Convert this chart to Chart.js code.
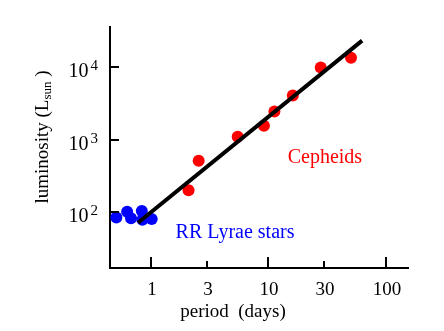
<!DOCTYPE html>
<html>
<head>
<meta charset="utf-8">
<script src="https://cdn.jsdelivr.net/npm/chart.js@4.4.0/dist/chart.umd.min.js"></script>
<style>
  html, body { margin: 0; padding: 0; background: #fff; }
  canvas { display: block; }
</style>
</head>
<body>
<canvas id="plChart" width="444" height="331"></canvas>
<script>
// RR Lyrae variables: period (days), luminosity (L_sun)
const rrPeriod = [0.51, 0.63, 0.68, 0.84, 0.85, 1.02];
const rrLum = [84, 101, 82, 103, 78, 80];

// classical Cepheids
const cephPeriod = [2.1, 2.56, 5.5, 9.2, 11.3, 16.2, 28, 50.7];
const cephLum = [200, 510, 1100, 1560, 2440, 4070, 9900, 13600];

// period-luminosity fit, end points
const fitPeriod = [0.78, 63];
const fitLum = [71, 23400];

const xTicks = [1, 3, 10, 30, 100];
const xMajor = [1, 10, 100];
const yTicks = [100, 1000, 10000];

const serif = '"Liberation Serif", "Times New Roman", serif';

const toPoints = (xs, ys) => xs.map((v, i) => ({ x: v, y: ys[i] }));

// tick marks point inwards, labels and titles are drawn by hand
const axisDecor = {
    id: "axisDecor",
    afterDraw(chart) {
        const { ctx, chartArea: a, scales: { x, y } } = chart;
        ctx.save();
        ctx.strokeStyle = "#000";
        ctx.fillStyle = "#000";
        ctx.lineWidth = 2;
        ctx.textBaseline = "alphabetic";

        ctx.font = "19px " + serif;
        ctx.textAlign = "center";
        xTicks.forEach(v => {
            const px = Math.round(x.getPixelForValue(v));
            const len = xMajor.includes(v) ? 11 : 7;
            ctx.beginPath();
            ctx.moveTo(px, a.bottom);
            ctx.lineTo(px, a.bottom - len);
            ctx.stroke();
            ctx.fillText(String(v), px + 1, a.bottom + 27);
        });

        yTicks.forEach(v => {
            const py = Math.round(y.getPixelForValue(v));
            ctx.beginPath();
            ctx.moveTo(a.left, py);
            ctx.lineTo(a.left + 9, py);
            ctx.stroke();
            const exp = String(Math.round(Math.log10(v)));
            ctx.textAlign = "right";
            ctx.font = "15px " + serif;
            ctx.fillText(exp, a.left - 12, py + 3);
            const ew = ctx.measureText(exp).width;
            ctx.font = "20px " + serif;
            ctx.fillText("10", a.left - 14 - ew, py + 10);
        });

        // x title
        ctx.textAlign = "center";
        ctx.font = "19px " + serif;
        ctx.fillText("period  (days)", 233, 317);

        // y title with subscript
        ctx.save();
        ctx.translate(48, 137);
        ctx.rotate(-Math.PI / 2);
        ctx.textAlign = "left";
        const parts = [
            ["luminosity (L", "19px", 0],
            ["sun", "13px", 3],
            [" )", "19px", 0]
        ];
        let total = 0;
        parts.forEach(p => { ctx.font = p[1] + " " + serif; total += ctx.measureText(p[0]).width; });
        let cx = -total / 2;
        parts.forEach(p => {
            ctx.font = p[1] + " " + serif;
            ctx.fillText(p[0], cx, p[2]);
            cx += ctx.measureText(p[0]).width;
        });
        ctx.restore();

        // group names
        ctx.textAlign = "center";
        ctx.font = "20px " + serif;
        ctx.fillStyle = "#ff0000";
        ctx.fillText("Cepheids", x.getPixelForValue(30.4), y.getPixelForValue(476));
        ctx.fillStyle = "#0000ff";
        ctx.fillText("RR Lyrae stars", x.getPixelForValue(5.22), y.getPixelForValue(43.7));

        ctx.restore();
    }
};

new Chart(document.getElementById("plChart"), {
    type: "scatter",
    data: {
        datasets: [
            {
                type: "line",
                data: toPoints(fitPeriod, fitLum),
                borderColor: "#000",
                borderWidth: 4,
                pointRadius: 0,
                clip: false
            },
            {
                data: toPoints(cephPeriod, cephLum),
                backgroundColor: "#ff0000",
                borderWidth: 0,
                pointRadius: 6,
                clip: false
            },
            {
                data: toPoints(rrPeriod, rrLum),
                backgroundColor: "#0000ff",
                borderWidth: 0,
                pointRadius: 6,
                clip: false
            }
        ]
    },
    options: {
        responsive: false,
        animation: false,
        layout: { padding: { left: 110, top: 27, right: 36, bottom: 63 } },
        plugins: {
            legend: { display: false },
            tooltip: { enabled: false }
        },
        scales: {
            x: {
                type: "logarithmic",
                min: 0.4503,
                max: 154.9,
                bounds: "data",
                grid: { display: false, drawTicks: false },
                ticks: { display: false },
                border: { display: true, color: "#000", width: 2 }
            },
            y: {
                type: "logarithmic",
                min: 16.8,
                max: 36060,
                bounds: "data",
                grid: { display: false, drawTicks: false },
                ticks: { display: false },
                border: { display: true, color: "#000", width: 2 }
            }
        }
    },
    plugins: [axisDecor]
});
</script>
</body>
</html>
